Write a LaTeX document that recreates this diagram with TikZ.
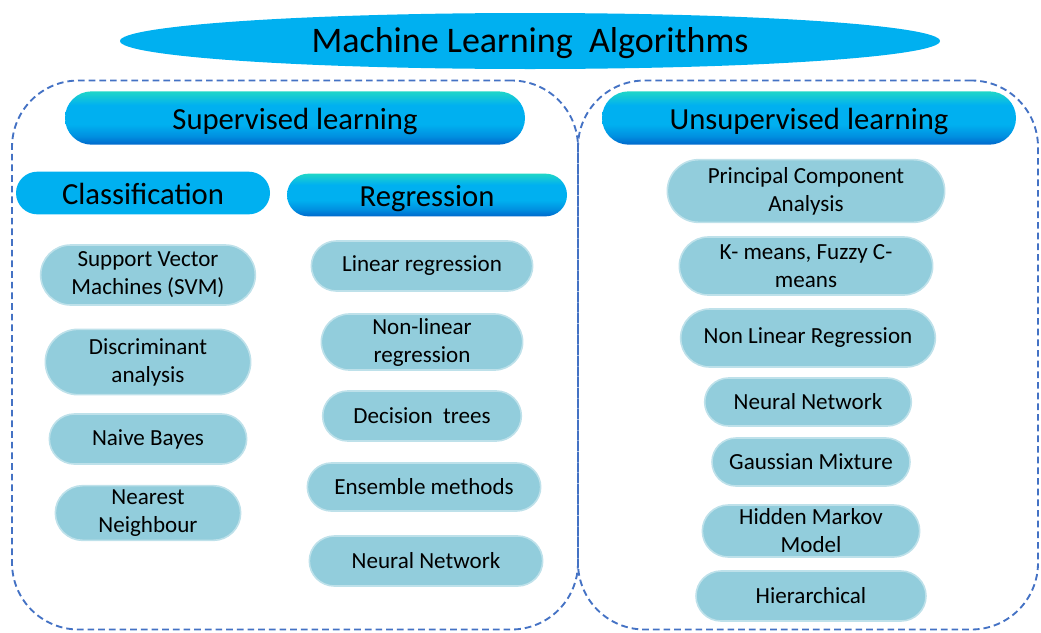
\documentclass[tikz,border=0pt]{standalone}
\usepackage{fontspec}
\setmainfont{Carlito}
\usetikzlibrary{shapes.geometric,shapes.misc}

\definecolor{mlblue}{RGB}{0,176,240}
\definecolor{mlteal}{RGB}{32,214,200}
\definecolor{mldeep}{RGB}{0,104,204}
\definecolor{itemfill}{RGB}{146,205,220}
\definecolor{dashblue}{RGB}{68,114,196}

\pgfdeclareverticalshading{headshade}{100bp}{color(0bp)=(mldeep); color(25bp)=(mldeep);
  color(33bp)=(mldeep!45!mlblue); color(44bp)=(mlblue); color(62bp)=(mlblue);
  color(75bp)=(mlteal); color(100bp)=(mlteal)}

\tikzset{
  titlebox/.style={ellipse, fill=mlblue, inner sep=0pt,
    text height=23pt, text depth=6pt, font=\fontsize{27}{32}\selectfont},
  headbox/.style={rounded rectangle, inner sep=0pt, shading=headshade,
    text height=20pt, text depth=3.5pt, font=\fontsize{23}{27}\selectfont},
  flatbox/.style={rounded rectangle, inner sep=0pt, fill=mlblue,
    text height=20pt, text depth=3.5pt, font=\fontsize{23}{27}\selectfont},
  itembox/.style={rounded rectangle, inner sep=0pt, fill=itemfill,
    draw=itemfill!60, line width=1.2pt, align=center,
    font=\fontsize{17.3}{21}\selectfont},
  groupbox/.style={rectangle, draw=dashblue, line width=1.4pt,
    dash pattern=on 5pt off 3pt, rounded corners=50pt, inner sep=0pt}
}

\begin{document}
\begin{tikzpicture}[x=0.75pt,y=-0.75pt]
  \useasboundingbox (0,0) rectangle (1041,632);

  % dashed groups
  \node[groupbox, minimum width=424.5pt, minimum height=411.75pt] (supgroup) at (295,355) {};
  \node[groupbox, minimum width=345pt, minimum height=411.75pt] (unsgroup) at (808,355) {};

  % title and headers
  \node[titlebox, minimum width=615pt, minimum height=42pt] (ml) at (530,41) {Machine Learning~~Algorithms};
  \node[headbox, minimum width=345pt, minimum height=40pt] (sup) at (295,118) {Supervised learning};
  \node[headbox, minimum width=310.5pt, minimum height=40pt] (uns) at (809,118) {Unsupervised learning};
  \node[flatbox, minimum width=190.5pt, minimum height=32pt] (cls) at (143,193) {Classification};
  \node[headbox, minimum width=210pt, minimum height=32pt] (reg) at (427,195) {Regression};

  % classification
  \node[itembox, minimum width=161pt, minimum height=45pt] (svm) at (148,275) {Support Vector\\Machines (SVM)};
  \node[itembox, minimum width=154pt, minimum height=49pt] (disc) at (148,362) {Discriminant\\analysis};
  \node[itembox, minimum width=148pt, minimum height=37.5pt] (bayes) at (148,439) {Naive Bayes};
  \node[itembox, minimum width=139pt, minimum height=41pt] (knn) at (148,513) {Nearest\\Neighbour};

  % regression
  \node[itembox, minimum width=166pt, minimum height=37.5pt] (linreg) at (422,266) {Linear regression};
  \node[itembox, minimum width=151pt, minimum height=42pt] (nonlin) at (422,342) {Non-linear\\regression};
  \node[itembox, minimum width=149pt, minimum height=37.5pt] (tree) at (422,416) {Decision~~trees};
  \node[itembox, minimum width=175pt, minimum height=36pt] (ens) at (424,487) {Ensemble methods};
  \node[itembox, minimum width=175pt, minimum height=37.5pt] (nnsup) at (426,561) {Neural Network};

  % unsupervised
  \node[itembox, minimum width=208pt, minimum height=47pt] (pca) at (806,191) {Principal Component\\Analysis};
  \node[itembox, minimum width=190pt, minimum height=43.5pt] (kmeans) at (806,266) {K- means, Fuzzy C-\\means};
  \node[itembox, minimum width=191pt, minimum height=43.5pt] (nlr) at (808,338) {Non Linear Regression};
  \node[itembox, minimum width=155pt, minimum height=36pt] (nnuns) at (808,402) {Neural Network};
  \node[itembox, minimum width=148.5pt, minimum height=36pt] (gmm) at (811,462) {Gaussian Mixture};
  \node[itembox, minimum width=163pt, minimum height=39pt] (hmm) at (811,531) {Hidden Markov\\Model};
  \node[itembox, minimum width=172.5pt, minimum height=37.5pt] (hier) at (811,596) {Hierarchical};
\end{tikzpicture}
\end{document}
